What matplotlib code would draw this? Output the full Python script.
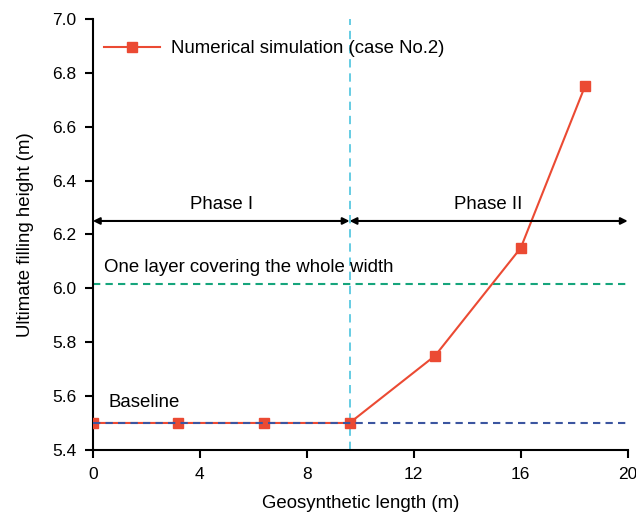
import matplotlib.pyplot as plt

# data
length = [0, 3.2, 6.4, 9.6, 12.8, 16, 18.4]
height = [5.5, 5.5, 5.5, 5.5, 5.75, 6.15, 6.75]
baseline = 5.5
one_layer = 6.017
phase_split = 9.6
phase_y = 6.25

plt.rcParams['font.family'] = ['Liberation Sans', 'DejaVu Sans']
plt.rcParams['font.size'] = 13.4

fig = plt.figure(figsize=(6.36, 5.13), dpi=100)
ax = fig.add_axes([0.146, 0.123, 0.841, 0.84])

ax.axhline(baseline, color='#3b55a0', ls=(0, (3.5, 2.5)), lw=1.5, zorder=4)
ax.axhline(one_layer, color='#16a57c', ls=(0, (3.5, 2.5)), lw=1.5, zorder=2)
ax.axvline(phase_split, color='#4cc3de', ls=(0, (5, 3.5)), lw=1.2, zorder=1)

ax.plot(length, height, color='#eb4a33', lw=1.5, marker='s', ms=7.5,
        label='Numerical simulation (case No.2)', zorder=3)

arrow = dict(arrowstyle='<|-|>', color='black', lw=1.5, mutation_scale=10, shrinkA=0, shrinkB=0)
ax.annotate('', xy=(0, phase_y), xytext=(phase_split, phase_y), arrowprops=arrow)
ax.annotate('', xy=(phase_split, phase_y), xytext=(20, phase_y), arrowprops=arrow)
ax.text(phase_split / 2, phase_y + 0.03, 'Phase I', ha='center', va='bottom')
ax.text((phase_split + 20) / 2, phase_y + 0.03, 'Phase II', ha='center', va='bottom')
ax.text(0.4, one_layer + 0.03, 'One layer covering the whole width', ha='left', va='bottom')
ax.text(0.6, baseline + 0.045, 'Baseline', ha='left', va='bottom')

ax.set_xlim(0, 20)
ax.set_ylim(5.4, 7.0)
ax.set_xticks([0, 4, 8, 12, 16, 20])
ax.set_yticks([5.4, 5.6, 5.8, 6.0, 6.2, 6.4, 6.6, 6.8, 7.0])
ax.yaxis.set_major_formatter(plt.FormatStrFormatter('%.1f'))
ax.spines['top'].set_visible(False)
ax.spines['right'].set_visible(False)
ax.spines['left'].set_linewidth(1.5)
ax.spines['bottom'].set_linewidth(1.5)
ax.tick_params(direction='out', length=6, width=1.5, pad=6, labelsize=12.5)
ax.set_xlabel('Geosynthetic length (m)', labelpad=10)
ax.set_ylabel('Ultimate filling height (m)', labelpad=13)
for s in ax.spines.values():
    s.set_clip_on(False)

ax.legend(loc='upper left', frameon=False, bbox_to_anchor=(-0.01, 0.99), handlelength=3.0,
          handletextpad=0.6)

fig.savefig('out.png', dpi=100)
